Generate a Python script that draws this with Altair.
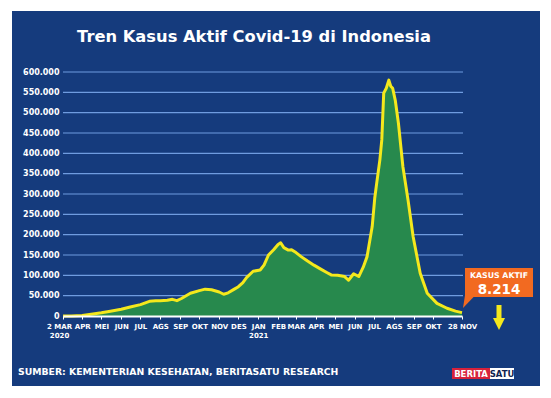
import altair as alt
import pandas as pd

# ---------------- data ----------------
DATES = [
    "2020-03-02", "2020-03-15", "2020-04-01", "2020-04-15", "2020-05-01", "2020-05-15",
    "2020-06-01", "2020-06-15", "2020-07-01", "2020-07-15", "2020-07-25", "2020-08-01",
    "2020-08-12", "2020-08-20", "2020-08-27", "2020-09-03", "2020-09-17", "2020-10-01",
    "2020-10-10", "2020-10-20", "2020-11-01", "2020-11-08", "2020-11-15", "2020-11-24",
    "2020-12-01", "2020-12-08", "2020-12-14", "2020-12-24", "2021-01-04", "2021-01-10",
    "2021-01-17", "2021-01-25", "2021-02-01", "2021-02-05", "2021-02-10", "2021-02-17",
    "2021-02-22", "2021-03-01", "2021-03-09", "2021-03-19", "2021-03-29", "2021-04-08",
    "2021-04-18", "2021-04-25", "2021-05-05", "2021-05-16", "2021-05-22", "2021-05-30",
    "2021-06-07", "2021-06-14", "2021-06-20", "2021-06-28", "2021-07-02", "2021-07-05",
    "2021-07-10", "2021-07-13", "2021-07-16", "2021-07-20", "2021-07-24", "2021-07-27",
    "2021-07-30", "2021-08-03", "2021-08-08", "2021-08-15", "2021-08-23", "2021-08-31",
    "2021-09-11", "2021-09-22", "2021-10-09", "2021-10-29", "2021-11-15", "2021-11-28",
]
ACTIVE = [
    2, 100, 1400, 4300, 7800, 11500,
    16500, 22000, 28000, 36000, 37500, 37800,
    38500, 41000, 37800, 43000, 56000, 62500,
    66000, 64500, 59000, 53500, 57000, 65500,
    72000, 82000, 95000, 110000, 113000, 125000,
    150000, 163000, 176000, 180000, 168000, 162000,
    163000, 156000, 146000, 135000, 125000, 116000,
    107000, 101000, 100000, 97000, 88000, 104000,
    97000, 120000, 146000, 220000, 290000, 326000,
    384000, 433000, 548000, 560000, 580000, 565000,
    560000, 531000, 474000, 367000, 285000, 195000,
    105000, 56000, 31000, 19000, 12000, 8214,
]

MONTHS = ["JAN", "FEB", "MAR", "APR", "MEI", "JUN", "JUL", "AGS", "SEP", "OKT", "NOV", "DES"]
TICK_DATES = [
    "2020-03-02", "2020-04-01", "2020-05-01", "2020-06-01", "2020-07-01", "2020-08-01",
    "2020-09-01", "2020-10-01", "2020-11-01", "2020-12-01", "2021-01-01", "2021-02-01",
    "2021-03-01", "2021-04-01", "2021-05-01", "2021-06-01", "2021-07-01", "2021-08-01",
    "2021-09-01", "2021-10-01", "2021-11-28",
]
Y_TICKS = [0, 50000, 100000, 150000, 200000, 250000, 300000, 350000, 400000,
           450000, 500000, 550000, 600000]

TITLE = "Tren Kasus Aktif Covid-19 di Indonesia"
SOURCE = "SUMBER: KEMENTERIAN KESEHATAN, BERITASATU RESEARCH"
CALLOUT_LABEL = "KASUS AKTIF"
CALLOUT_VALUE = "8.214"
LOGO_LEFT = "BERITA"
LOGO_RIGHT = "SATU"

# ---------------- styling ----------------
FONT = "DejaVu Sans"
BLUE = "#153b7d"
GRID = "#6f9ce0"
GREEN = "#27894d"
YELLOW = "#f4e81c"
ORANGE = "#f26a21"
RED = "#d7223b"

W, H = 399, 244


def ms(d):
    return int(pd.Timestamp(d, tz="UTC").value // 10**6)


def tick_label(d):
    ts = pd.Timestamp(d)
    if d == TICK_DATES[0]:
        return [f"{ts.day} {MONTHS[ts.month - 1]}", str(ts.year)]
    if d == TICK_DATES[-1]:
        return f"{ts.day} {MONTHS[ts.month - 1]}"
    if ts.month == 1:
        return [MONTHS[0], str(ts.year)]
    return MONTHS[ts.month - 1]


def js(v):
    if isinstance(v, list):
        return "[" + ",".join(f"'{s}'" for s in v) + "]"
    return f"'{v}'"


label_expr = "''"
for d in reversed(TICK_DATES):
    label_expr = f"(utcFormat(datum.value,'%Y-%m-%d')=='{d}' ? {js(tick_label(d))} : {label_expr})"

df = pd.DataFrame({"date": DATES, "active": ACTIVE})
grid_df = pd.DataFrame({"active": Y_TICKS[1:]})

# piecewise time scale: the source compresses the last two months slightly
domain_expr = "[" + ",".join(str(ms(d)) for d in [DATES[0], "2021-10-01", DATES[-1]]) + "]"
xscale = alt.Scale(
    type="utc",
    domain=alt.ExprRef(domain_expr),
    range=[0, 370, W],
    nice=False,
)
yscale = alt.Scale(domain=[0, 600000], nice=False, zero=True)

first_test = f"utcFormat(datum.value,'%Y-%m-%d')=='{TICK_DATES[0]}'"

xaxis = alt.Axis(
    values=[ms(d) for d in TICK_DATES],
    labelExpr=label_expr,
    title=None,
    grid=False,
    zindex=1,
    domainColor="white",
    domainWidth=2,
    tickColor="white",
    tickSize=3,
    tickWidth=1,
    labelColor="white",
    labelFont=FONT,
    labelFontWeight="bold",
    labelFontSize=7,
    labelPadding=3,
    labelOverlap=False,
    labelFlush=False,
    labelLineHeight=9,
    labelOffset={"condition": {"test": first_test, "value": -4}, "value": 0},
)
yaxis = alt.Axis(
    values=Y_TICKS,
    labelExpr="replace(format(datum.value, ','), ',', '.')",
    title=None,
    grid=False,
    zindex=1,
    domain=False,
    ticks=False,
    labelColor="white",
    labelFont=FONT,
    labelFontWeight="bold",
    labelFontSize=8,
    labelPadding=4,
)

one = pd.DataFrame({"k": [0]})

panel = alt.Chart(one).mark_rect(color=BLUE).encode(
    x=alt.value(-51), x2=alt.value(477), y=alt.value(-61), y2=alt.value(314)
)

grid = alt.Chart(grid_df).mark_rule(color=GRID, strokeWidth=1.2).encode(
    y=alt.Y("active:Q", scale=yscale, axis=yaxis), x=alt.value(0), x2=alt.value(W + 1)
)

area = alt.Chart(df).mark_area(color=GREEN, opacity=1).encode(
    x=alt.X("date:T", scale=xscale, axis=xaxis),
    y=alt.Y("active:Q", scale=yscale, axis=yaxis),
)
line = alt.Chart(df).mark_line(color=YELLOW, strokeWidth=3, strokeJoin="round").encode(
    x=alt.X("date:T", scale=xscale, axis=xaxis),
    y=alt.Y("active:Q", scale=yscale, axis=yaxis),
)

title = alt.Chart(pd.DataFrame({"t": [TITLE]})).mark_text(
    font=FONT, fontWeight="bold", fontSize=16.3, color="white", align="center", baseline="middle"
).encode(text="t:N", x=alt.value(191), y=alt.value(-35))

source = alt.Chart(pd.DataFrame({"t": [SOURCE]})).mark_text(
    font=FONT, fontWeight="bold", fontSize=9.3, color="white", align="left", baseline="middle"
).encode(text="t:N", x=alt.value(-45), y=alt.value(300))

logo_red = alt.Chart(one).mark_rect(color=RED).encode(
    x=alt.value(389), x2=alt.value(427), y=alt.value(296), y2=alt.value(307)
)
logo_white = alt.Chart(one).mark_rect(color="white").encode(
    x=alt.value(427), x2=alt.value(451), y=alt.value(296), y2=alt.value(307)
)
logo_t1 = alt.Chart(pd.DataFrame({"t": [LOGO_LEFT]})).mark_text(
    font=FONT, fontWeight="bold", fontSize=8.5, color="white", align="center", baseline="middle"
).encode(text="t:N", x=alt.value(408), y=alt.value(301.5))
logo_t2 = alt.Chart(pd.DataFrame({"t": [LOGO_RIGHT]})).mark_text(
    font=FONT, fontWeight="bold", fontSize=8.5, color="#0f2350", align="center", baseline="middle"
).encode(text="t:N", x=alt.value(439), y=alt.value(301.5))

callout_box = alt.Chart(one).mark_rect(color=ORANGE).encode(
    x=alt.value(402), x2=alt.value(470), y=alt.value(196), y2=alt.value(225)
)
callout_ptr = alt.Chart(one).mark_point(
    filled=True, color=ORANGE, opacity=1, shape="M-0.67,-1.1L1,-1.1L-1,1Z", size=144
).encode(x=alt.value(406), y=alt.value(230))
callout_t1 = alt.Chart(pd.DataFrame({"t": [CALLOUT_LABEL]})).mark_text(
    font=FONT, fontWeight="bold", fontSize=7.8, color="white", align="center", baseline="middle"
).encode(text="t:N", x=alt.value(436), y=alt.value(204))
callout_t2 = alt.Chart(pd.DataFrame({"t": [CALLOUT_VALUE]})).mark_text(
    font=FONT, fontWeight="bold", fontSize=13.5, color="white", align="center", baseline="middle"
).encode(text="t:N", x=alt.value(436), y=alt.value(218))

arrow_shaft = alt.Chart(one).mark_rule(color=YELLOW, strokeWidth=5).encode(
    x=alt.value(436), y=alt.value(233), y2=alt.value(248)
)
arrow_head = alt.Chart(one).mark_point(
    filled=True, color=YELLOW, opacity=1, shape="M-1,-1L1,-1L0,1Z", size=144
).encode(x=alt.value(436), y=alt.value(252))

chart = alt.layer(
    panel, grid, area, line, title, source,
    logo_red, logo_white, logo_t1, logo_t2,
    callout_box, callout_ptr, callout_t1, callout_t2,
    arrow_shaft, arrow_head,
).properties(
    width=W, height=H,
    autosize=alt.AutoSizeParams(type="none"),
    padding={"left": 55, "top": 64, "right": 81, "bottom": 74},
    background="white",
).configure_view(stroke=None)

chart.save("out.html", embed_options={"renderer": "svg", "actions": False})
